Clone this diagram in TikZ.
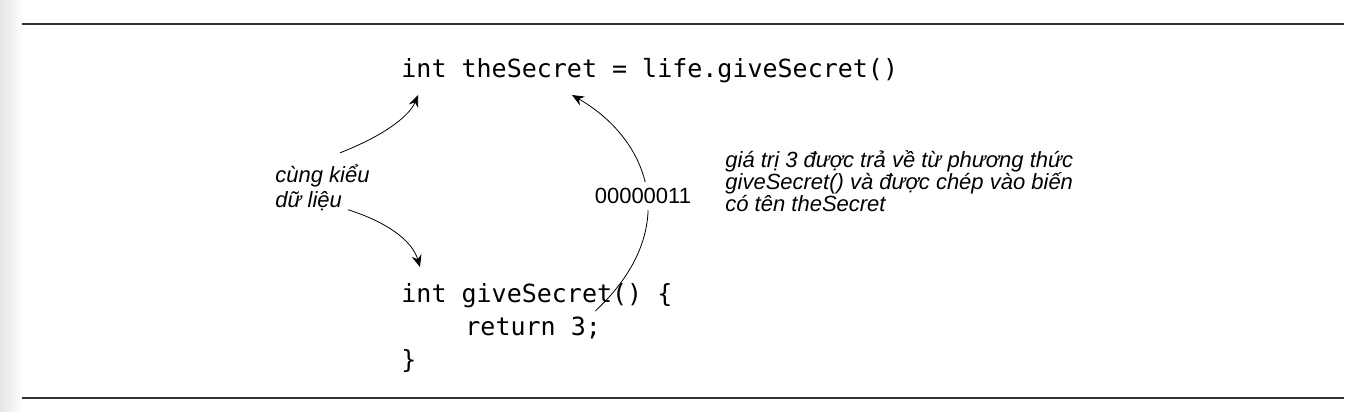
\documentclass[tikz,border=0pt]{standalone}
\usepackage{fontspec}
\setmainfont{Liberation Sans}
\setmonofont{DejaVu Sans Mono}
\usepackage{tikz}
\usetikzlibrary{arrows.meta, positioning, calc}

\newcommand{\tightlines}{\lineskiplimit -20pt\relax}

\tikzset{
  code/.style={font=\ttfamily\fontsize{12.5}{16.5}\selectfont, inner sep=0pt},
  note/.style={font={\itshape\fontsize{11}{11}\selectfont\tightlines}, align=left, inner sep=0pt},
  link/.style={thin, -{Stealth[length=6pt, width=5pt, inset=2pt]}},
  rule/.style={line width=1pt, black!80}
}

\begin{document}
\begin{tikzpicture}[x=0.5pt, y=-0.5pt]
  \useasboundingbox (0,0) rectangle (1362,412);
  \shade[left color=black!10, right color=white] (0,0) rectangle (24,412);
  \draw[rule] (22,24) -- (1344,24);
  \draw[rule] (22,398) -- (1344,398);

  % code lines
  \node[code, anchor=base west] (secret) at (401,77) {int theSecret = life.giveSecret()};
  \node[code, anchor=base west] (give) at (401,302) {int giveSecret() \{};
  \node[code, anchor=base west] (ret) at (465,335) {return 3;};
  \node[code, anchor=base west] (close) at (401,368) {\}};

  % notes
  \node[note, anchor=base west, font={\itshape\fontsize{11}{12.5}\selectfont\tightlines}] (same) at (275,207) {cùng kiểu\\dữ liệu};
  \node[note, anchor=base west] (copied) at (725,211) {giá trị 3 được trả về từ phương thức\\giveSecret() và được chép vào biến\\có tên theSecret};

  \draw[link] ($(same.north east)+(-30,-11)$) .. controls +(46,-18) and +(-8,20) .. ($(secret.base west)+(17,18)$);
  \draw[link] ($(same.south east)+(-22,-1)$) .. controls +(38,12) and +(-8,-27) .. ($(give.base west)+(19,-35)$);
  \draw[link] ($(ret.north east)+(-6,-5)$) .. controls +(88,-82) and +(78,45) .. node[pos=0.47, xshift=-2pt, fill=white, inner sep=3pt, font=\fontsize{11}{13}\selectfont] (bits) {00000011} ($(secret.base west)+(171,18)$);
\end{tikzpicture}
\end{document}
